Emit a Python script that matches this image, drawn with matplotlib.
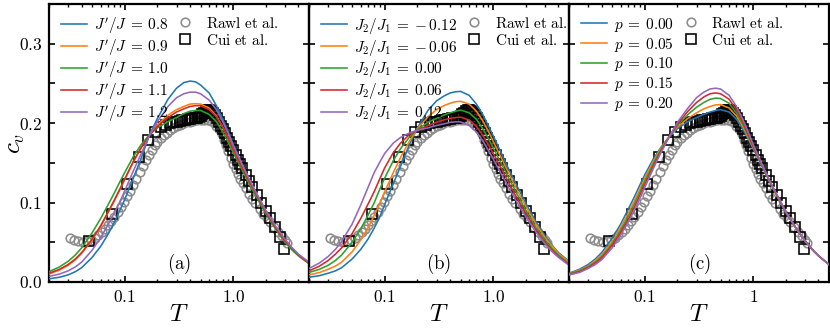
import numpy as np
import matplotlib
matplotlib.use("Agg")
import matplotlib.pyplot as plt
from matplotlib.ticker import FixedLocator, NullFormatter

plt.rcParams['mathtext.fontset'] = 'cm'
plt.rcParams['font.family'] = ['DejaVu Serif']
plt.rcParams['axes.unicode_minus'] = False

# ---------------- data ----------------
T_grid = [0.02, 0.025, 0.03, 0.035, 0.04, 0.05, 0.06, 0.07, 0.08, 0.09, 0.1, 0.12, 0.14, 0.17,
          0.2, 0.25, 0.3, 0.35, 0.4, 0.45, 0.5, 0.6, 0.7, 0.8, 0.9, 1.0, 1.2, 1.4, 1.7, 2.0,
          2.5, 3.0, 3.5, 4.0, 5.0]

# panel (a): J'/J
labels_a = [r"$J'/J\:=\:0.8$", r"$J'/J\:=\:0.9$", r"$J'/J\:=\:1.0$", r"$J'/J\:=\:1.1$", r"$J'/J\:=\:1.2$"]
a_08 = [0.004, 0.006, 0.009, 0.013, 0.018, 0.031, 0.045, 0.060, 0.075, 0.090, 0.104, 0.131, 0.154, 0.186,
        0.206, 0.230, 0.244, 0.251, 0.253, 0.252, 0.248, 0.238, 0.222, 0.205, 0.189, 0.173, 0.149, 0.129,
        0.107, 0.089, 0.067, 0.052, 0.042, 0.034, 0.024]
a_09 = [0.010, 0.015, 0.021, 0.028, 0.036, 0.053, 0.070, 0.087, 0.102, 0.116, 0.129, 0.151, 0.168, 0.186,
        0.198, 0.210, 0.217, 0.221, 0.224, 0.2245, 0.224, 0.219, 0.209, 0.195, 0.181, 0.167, 0.145, 0.126,
        0.105, 0.087, 0.066, 0.051, 0.041, 0.033, 0.023]
a_10 = [0.013, 0.019, 0.026, 0.034, 0.043, 0.062, 0.080, 0.097, 0.112, 0.126, 0.138, 0.158, 0.172, 0.186,
        0.194, 0.202, 0.207, 0.212, 0.215, 0.216, 0.216, 0.211, 0.202, 0.189, 0.176, 0.163, 0.142, 0.124,
        0.103, 0.086, 0.065, 0.050, 0.040, 0.033, 0.023]
a_11 = [0.011, 0.016, 0.022, 0.029, 0.037, 0.054, 0.071, 0.088, 0.103, 0.117, 0.130, 0.152, 0.168, 0.185,
        0.196, 0.207, 0.214, 0.218, 0.221, 0.222, 0.222, 0.217, 0.208, 0.195, 0.181, 0.167, 0.145, 0.127,
        0.106, 0.088, 0.067, 0.052, 0.042, 0.034, 0.024]
a_12 = [0.007, 0.010, 0.014, 0.019, 0.025, 0.040, 0.056, 0.072, 0.087, 0.101, 0.115, 0.140, 0.160, 0.185,
        0.202, 0.221, 0.232, 0.237, 0.239, 0.239, 0.237, 0.229, 0.217, 0.202, 0.187, 0.172, 0.149, 0.130,
        0.108, 0.090, 0.069, 0.054, 0.043, 0.035, 0.025]

# panel (b): J2/J1
labels_b = [r"$J_2/J_1\:=\:-\,0.12$", r"$J_2/J_1\:=\:-\,0.06$", r"$J_2/J_1\:=\:0.00$",
            r"$J_2/J_1\:=\:0.06$", r"$J_2/J_1\:=\:0.12$"]
b_m12 = [0.006, 0.008, 0.011, 0.014, 0.018, 0.029, 0.041, 0.054, 0.068, 0.082, 0.098, 0.124, 0.146, 0.174,
         0.194, 0.216, 0.228, 0.234, 0.238, 0.2395, 0.240, 0.235, 0.224, 0.211, 0.197, 0.184, 0.161, 0.141,
         0.118, 0.099, 0.075, 0.058, 0.046, 0.037, 0.026]
b_m06 = [0.009, 0.012, 0.016, 0.020, 0.025, 0.038, 0.053, 0.068, 0.084, 0.099, 0.114, 0.138, 0.157, 0.178,
         0.193, 0.208, 0.217, 0.222, 0.225, 0.227, 0.2275, 0.224, 0.215, 0.203, 0.190, 0.177, 0.155, 0.136,
         0.113, 0.095, 0.072, 0.056, 0.045, 0.036, 0.025]
b_00 = [0.012, 0.016, 0.021, 0.027, 0.034, 0.050, 0.067, 0.084, 0.100, 0.117, 0.131, 0.153, 0.168, 0.183,
        0.192, 0.201, 0.206, 0.210, 0.213, 0.215, 0.2165, 0.213, 0.205, 0.193, 0.181, 0.169, 0.148, 0.130,
        0.108, 0.090, 0.068, 0.053, 0.042, 0.034, 0.023]
b_p06 = [0.014, 0.020, 0.027, 0.035, 0.043, 0.061, 0.080, 0.098, 0.114, 0.130, 0.144, 0.163, 0.175, 0.186,
         0.191, 0.197, 0.201, 0.204, 0.206, 0.207, 0.2075, 0.204, 0.196, 0.185, 0.173, 0.162, 0.142, 0.124,
         0.103, 0.086, 0.065, 0.050, 0.040, 0.032, 0.022]
b_p12 = [0.017, 0.024, 0.032, 0.041, 0.051, 0.073, 0.097, 0.119, 0.138, 0.151, 0.162, 0.175, 0.182, 0.188,
         0.191, 0.194, 0.197, 0.199, 0.201, 0.2017, 0.2015, 0.197, 0.189, 0.178, 0.166, 0.155, 0.135, 0.118,
         0.098, 0.082, 0.062, 0.048, 0.038, 0.031, 0.021]

# panel (c): p
labels_c = [r"$p\:=\:0.00$", r"$p\:=\:0.05$", r"$p\:=\:0.10$", r"$p\:=\:0.15$", r"$p\:=\:0.20$"]
c_00 = [0.011, 0.016, 0.022, 0.029, 0.037, 0.055, 0.073, 0.091, 0.107, 0.122, 0.135, 0.155, 0.169, 0.184,
        0.193, 0.202, 0.207, 0.211, 0.214, 0.216, 0.217, 0.214, 0.205, 0.193, 0.180, 0.168, 0.146, 0.128,
        0.106, 0.088, 0.067, 0.052, 0.041, 0.033, 0.022]
c_05 = [0.010, 0.015, 0.020, 0.027, 0.034, 0.051, 0.069, 0.086, 0.102, 0.117, 0.131, 0.152, 0.168, 0.184,
        0.195, 0.206, 0.213, 0.218, 0.221, 0.223, 0.2233, 0.219, 0.209, 0.196, 0.182, 0.169, 0.147, 0.128,
        0.106, 0.088, 0.067, 0.052, 0.041, 0.033, 0.022]
c_10 = [0.010, 0.014, 0.019, 0.025, 0.032, 0.048, 0.065, 0.082, 0.098, 0.113, 0.127, 0.149, 0.166, 0.184,
        0.197, 0.211, 0.220, 0.226, 0.230, 0.2315, 0.231, 0.225, 0.213, 0.199, 0.184, 0.170, 0.147, 0.128,
        0.106, 0.088, 0.067, 0.052, 0.041, 0.033, 0.022]
c_15 = [0.009, 0.013, 0.018, 0.024, 0.030, 0.046, 0.062, 0.078, 0.094, 0.109, 0.123, 0.146, 0.164, 0.184,
        0.199, 0.215, 0.226, 0.233, 0.237, 0.238, 0.237, 0.230, 0.217, 0.202, 0.186, 0.171, 0.148, 0.129,
        0.106, 0.088, 0.067, 0.052, 0.041, 0.033, 0.022]
c_20 = [0.009, 0.012, 0.017, 0.022, 0.028, 0.043, 0.059, 0.075, 0.090, 0.105, 0.119, 0.143, 0.162, 0.184,
        0.201, 0.219, 0.232, 0.239, 0.243, 0.244, 0.243, 0.235, 0.221, 0.205, 0.189, 0.173, 0.149, 0.129,
        0.107, 0.088, 0.067, 0.052, 0.041, 0.033, 0.022]

# experimental data
rawl_T = [0.031, 0.034, 0.037, 0.041, 0.045, 0.049, 0.053, 0.057, 0.061, 0.065, 0.07, 0.075, 0.08, 0.086,
          0.092, 0.098, 0.105, 0.112, 0.12, 0.128, 0.137, 0.146, 0.156, 0.167, 0.178, 0.19, 0.2, 0.215,
          0.23, 0.245, 0.26, 0.28, 0.3, 0.32, 0.34, 0.37, 0.4, 0.43, 0.46, 0.5, 0.54, 0.58, 0.62, 0.66,
          0.7, 0.74, 0.78, 0.82, 0.86, 0.9, 0.95, 1.0, 1.05, 1.1, 1.16, 1.22, 1.3, 1.4, 1.5, 1.6, 1.75,
          1.9, 2.05, 2.2, 2.4, 2.6, 2.8, 3.0, 3.15]
rawl_c = [0.055, 0.053, 0.051, 0.050, 0.051, 0.053, 0.056, 0.059, 0.063, 0.067, 0.072, 0.077, 0.082, 0.088,
          0.095, 0.101, 0.108, 0.115, 0.122, 0.130, 0.138, 0.146, 0.153, 0.160, 0.166, 0.172, 0.176, 0.181,
          0.185, 0.188, 0.191, 0.194, 0.196, 0.198, 0.199, 0.201, 0.202, 0.203, 0.204, 0.204, 0.204, 0.204,
          0.203, 0.201, 0.197, 0.192, 0.186, 0.179, 0.172, 0.165, 0.156, 0.148, 0.142, 0.136, 0.130, 0.125,
          0.118, 0.111, 0.105, 0.099, 0.092, 0.086, 0.080, 0.075, 0.069, 0.063, 0.058, 0.053, 0.049]

cui_T = [0.047, 0.076, 0.105, 0.134, 0.165, 0.19, 0.215, 0.24, 0.26, 0.28, 0.3, 0.32, 0.34, 0.36, 0.38,
         0.4, 0.42, 0.44, 0.46, 0.48, 0.5, 0.52, 0.54, 0.56, 0.58, 0.6, 0.62, 0.65, 0.68, 0.71, 0.74,
         0.77, 0.8, 0.84, 0.88, 0.92, 0.96, 1.0, 1.05, 1.1, 1.15, 1.2, 1.3, 1.4, 1.5, 1.65, 1.8, 2.0,
         2.2, 2.45, 2.7, 2.95]
cui_c = [0.052, 0.086, 0.124, 0.157, 0.179, 0.189, 0.195, 0.198, 0.200, 0.201, 0.202, 0.203, 0.204, 0.204,
         0.205, 0.205, 0.206, 0.206, 0.207, 0.208, 0.209, 0.211, 0.213, 0.215, 0.216, 0.216, 0.215, 0.213,
         0.210, 0.206, 0.202, 0.197, 0.193, 0.187, 0.181, 0.176, 0.171, 0.166, 0.160, 0.154, 0.149, 0.144,
         0.135, 0.127, 0.119, 0.109, 0.100, 0.089, 0.080, 0.069, 0.057, 0.042]

panels = [
    (labels_a, [a_08, a_09, a_10, a_11, a_12], r"$\mathrm{(a)}$", [r"$0.1$", r"$1.0$"], 0.525),
    (labels_b, [b_m12, b_m06, b_00, b_p06, b_p12], r"$\mathrm{(b)}$", [r"$0.1$", r"$1.0$"], 0.636),
    (labels_c, [c_00, c_05, c_10, c_15, c_20], r"$\mathrm{(c)}$", [r"$0.1$", r"$1$"], 0.47),
]
colors = ['#1f77b4', '#ff7f0e', '#2ca02c', '#d62728', '#9467bd']

# ---------------- figure ----------------
fig = plt.figure(figsize=(8.3, 3.28), dpi=100)
left, right = 49 / 830, 829 / 830
bottom, top = 1 - 282 / 328, 1 - 4 / 328
w = (right - left) / 3
FS = 11

for i, (labs, curves, tag, xtl, dleg_x) in enumerate(panels):
    ax = fig.add_axes([left + i * w, bottom, w, top - bottom])
    ax.patch.set_alpha(0)
    ax.set_xscale('log')
    rawl = ax.plot(rawl_T, rawl_c, 'o', ms=6.2, mfc='none', mec='#8c8c8c', mew=1.15, zorder=2,
                   label=r"$\mathrm{Rawl\ et\ al.}$")[0]
    cui = ax.plot(cui_T, cui_c, 's', ms=7.2, mfc='none', mec='black', mew=1.15, zorder=3,
                  label=r"$\mathrm{Cui\ et\ al.}$")[0]
    lines = []
    for vals, col, lab in zip(curves, colors, labs):
        lines.append(ax.plot(T_grid, vals, '-', color=col, lw=1.15, zorder=4, label=lab)[0])
    ax.set_xlim(0.02, 5)
    ax.set_ylim(0, 0.35)

    ax.xaxis.set_major_locator(FixedLocator([0.1, 1.0]))
    ax.set_xticklabels(xtl)
    ax.yaxis.set_major_locator(FixedLocator([0.0, 0.1, 0.2, 0.3]))
    ax.yaxis.set_minor_locator(FixedLocator([0.05, 0.15, 0.25]))
    ax.yaxis.set_minor_formatter(NullFormatter())
    if i == 0:
        ax.set_yticklabels([r"$0.0$", r"$0.1$", r"$0.2$", r"$0.3$"])
        ax.set_ylabel(r"$c_v$", fontsize=18)
        ax.yaxis.set_label_coords(-0.085, 0.5)
    else:
        ax.set_yticklabels([])
    ax.set_xlabel(r"$T$", fontsize=18, labelpad=-2)
    ax.tick_params(which='both', direction='in', top=True, right=True, labelsize=12.5, pad=5)
    ax.tick_params(which='major', length=4.5, width=1.2)
    ax.tick_params(which='minor', length=2.5, width=1.0)
    ax.tick_params(axis='y', which='minor', length=4.5, width=1.2)
    for sp in ax.spines.values():
        sp.set_linewidth(1.6)

    leg1 = ax.legend(handles=lines, loc='upper left', bbox_to_anchor=(0.046, 0.958), frameon=False,
                     fontsize=FS, borderpad=0, borderaxespad=0, handlelength=1.7, handletextpad=0.45,
                     labelspacing=0.12)
    ax.add_artist(leg1)
    ax.legend(handles=[rawl, cui], loc='upper left', bbox_to_anchor=(dleg_x - 0.037, 0.958),
              frameon=False, fontsize=FS, borderpad=0, borderaxespad=0, handlelength=1.25,
              handletextpad=0.7, labelspacing=0.12)

    ax.text(0.5, 0.065, tag, transform=ax.transAxes, ha='center', va='center', fontsize=13.5)

fig.savefig('out.png', dpi=100)
